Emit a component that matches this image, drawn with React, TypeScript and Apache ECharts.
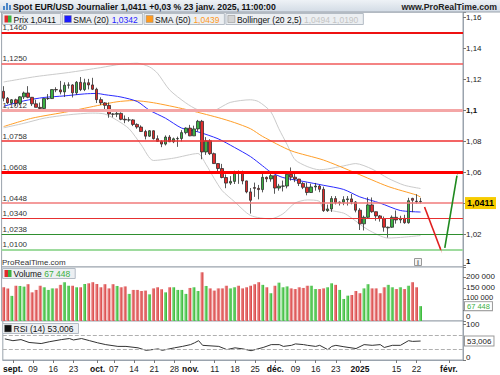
import React, { useEffect, useRef } from 'react';
import * as echarts from 'echarts';

const FONT = '"Liberation Sans", Arial, Helvetica, sans-serif';

// trading days: weekdays from firstDay to lastAxisDay, without holidays
const firstDay = '2024-08-29';
const lastAxisDay = '2025-02-06';
const holidays = ['2024-12-25', '2025-01-01'];

const priceOpen = [
  1.1122, 1.1077, 1.1047, 1.1067, 1.1044, 1.1086, 1.1111, 1.1083, 1.1041, 1.1018,
  1.1011, 1.1075, 1.1075, 1.1133, 1.1131, 1.1118, 1.1161, 1.1163, 1.1112, 1.1180,
  1.1133, 1.1177, 1.1163, 1.1135, 1.1068, 1.1047, 1.1031, 1.0975, 1.0974, 1.0979,
  1.0941, 1.0937, 1.0937, 1.0908, 1.0891, 1.0862, 1.0832, 1.0867, 1.0816, 1.0798,
  1.0781, 1.0826, 1.0796, 1.0815, 1.0817, 1.0855, 1.0884, 1.0834, 1.0879, 1.0928,
  1.0730, 1.0802, 1.0719, 1.0655, 1.0623, 1.0565, 1.0529, 1.0540, 1.0597, 1.0596,
  1.0543, 1.0472, 1.0500, 1.0495, 1.0487, 1.0566, 1.0556, 1.0577, 1.0497, 1.0509,
  1.0510, 1.0586, 1.0567, 1.0555, 1.0527, 1.0502, 1.0468, 1.0504, 1.0510, 1.0489,
  1.0351, 1.0362, 1.0429, 1.0403, 1.0406, 1.0422, 1.0427, 1.0407, 1.0354, 1.0266,
  1.0308, 1.0388, 1.0344, 1.0317, 1.0300, 1.0240, 1.0244, 1.0308, 1.0291, 1.0301,
  1.0273, 1.0430, 1.0412, 1.0409,
];
const priceHigh = [
  1.1155, 1.1085, 1.1072, 1.1074, 1.1090, 1.1120, 1.1155, 1.1085, 1.1067, 1.1049,
  1.1075, 1.1104, 1.1134, 1.1148, 1.1189, 1.1180, 1.1180, 1.1168, 1.1188, 1.1214,
  1.1203, 1.1202, 1.1209, 1.1145, 1.1083, 1.1052, 1.1050, 1.0981, 1.1002, 1.0986,
  1.0966, 1.0955, 1.0942, 1.0915, 1.0902, 1.0873, 1.0871, 1.0870, 1.0837, 1.0806,
  1.0837, 1.0839, 1.0823, 1.0829, 1.0871, 1.0889, 1.0905, 1.0900, 1.0937, 1.0937,
  1.0826, 1.0812, 1.0726, 1.0658, 1.0653, 1.0585, 1.0574, 1.0609, 1.0610, 1.0609,
  1.0545, 1.0497, 1.0532, 1.0517, 1.0588, 1.0572, 1.0596, 1.0577, 1.0524, 1.0545,
  1.0591, 1.0630, 1.0591, 1.0556, 1.0535, 1.0532, 1.0525, 1.0530, 1.0517, 1.0506,
  1.0390, 1.0445, 1.0445, 1.0410, 1.0444, 1.0445, 1.0458, 1.0413, 1.0367, 1.0319,
  1.0437, 1.0436, 1.0345, 1.0323, 1.0313, 1.0248, 1.0320, 1.0352, 1.0318, 1.0324,
  1.0434, 1.0434, 1.0457, 1.0433,
];
const priceLow = [
  1.1057, 1.1039, 1.1042, 1.1026, 1.1032, 1.1072, 1.1077, 1.1027, 1.1018, 1.1001,
  1.1003, 1.1066, 1.1072, 1.1116, 1.1102, 1.1085, 1.1139, 1.1082, 1.1099, 1.1123,
  1.1123, 1.1134, 1.1130, 1.1046, 1.1033, 1.1003, 1.0951, 1.0954, 1.0955, 1.0935,
  1.0916, 1.0925, 1.0897, 1.0880, 1.0860, 1.0811, 1.0827, 1.0810, 1.0795, 1.0761,
  1.0772, 1.0794, 1.0787, 1.0763, 1.0798, 1.0844, 1.0832, 1.0833, 1.0862, 1.0683,
  1.0711, 1.0710, 1.0653, 1.0595, 1.0560, 1.0496, 1.0517, 1.0523, 1.0524, 1.0521,
  1.0463, 1.0332, 1.0440, 1.0424, 1.0469, 1.0535, 1.0538, 1.0460, 1.0480, 1.0475,
  1.0495, 1.0545, 1.0535, 1.0510, 1.0490, 1.0450, 1.0465, 1.0480, 1.0470, 1.0343,
  1.0343, 1.0343, 1.0391, 1.0384, 1.0386, 1.0384, 1.0392, 1.0340, 1.0226, 1.0223,
  1.0302, 1.0337, 1.0286, 1.0280, 1.0215, 1.0177, 1.0240, 1.0267, 1.0270, 1.0266,
  1.0267, 1.0341, 1.0397, 1.0398,
];
const priceClose = [
  1.1077, 1.1047, 1.1067, 1.1044, 1.1086, 1.1111, 1.1083, 1.1041, 1.1018, 1.1011,
  1.1075, 1.1075, 1.1133, 1.1131, 1.1118, 1.1161, 1.1163, 1.1112, 1.1180, 1.1133,
  1.1177, 1.1163, 1.1135, 1.1068, 1.1047, 1.1031, 1.0975, 1.0974, 1.0979, 1.0941,
  1.0937, 1.0937, 1.0908, 1.0891, 1.0862, 1.0832, 1.0867, 1.0816, 1.0798, 1.0781,
  1.0826, 1.0796, 1.0815, 1.0817, 1.0855, 1.0884, 1.0834, 1.0879, 1.0928, 1.0730,
  1.0802, 1.0719, 1.0655, 1.0623, 1.0565, 1.0529, 1.0540, 1.0597, 1.0596, 1.0543,
  1.0472, 1.0418, 1.0495, 1.0487, 1.0566, 1.0556, 1.0577, 1.0497, 1.0509, 1.0510,
  1.0586, 1.0567, 1.0555, 1.0527, 1.0502, 1.0468, 1.0504, 1.0510, 1.0489, 1.0351,
  1.0362, 1.0429, 1.0403, 1.0406, 1.0422, 1.0427, 1.0407, 1.0354, 1.0266, 1.0308,
  1.0388, 1.0344, 1.0317, 1.0300, 1.0244, 1.0244, 1.0308, 1.0291, 1.0301, 1.0273,
  1.0415, 1.0418, 1.0409, 1.0411,
];

const volumes = [
  153000, 148000, 114000, 160000, 159000, 156000, 167000, 130000, 141000, 160000,
  153000, 141000, 148000, 148000, 164000, 176000, 160000, 160000, 153000, 153000,
  168000, 171000, 176000, 168000, 153000, 167000, 148000, 167000, 159000, 153000,
  157000, 123000, 141000, 141000, 136000, 138000, 121000, 148000, 153000, 144000,
  130000, 153000, 153000, 141000, 141000, 123000, 150000, 153000, 136000, 221000,
  159000, 148000, 138000, 148000, 148000, 160000, 148000, 153000, 160000, 148000,
  153000, 160000, 167000, 176000, 164000, 153000, 126000, 160000, 174000, 153000,
  157000, 148000, 145000, 153000, 150000, 160000, 160000, 145000, 145000, 148000,
  153000, 171000, 164000, 141000, 100000, 115000, 118000, 136000, 126000, 148000,
  167000, 148000, 148000, 126000, 153000, 164000, 153000, 145000, 153000, 145000,
  160000, 176000, 153000, 67448,
];

// [candle index, value]
const sma20 = [
  [0, 1.1025], [5, 1.106], [10, 1.1082], [15, 1.1092], [20, 1.1105], [23, 1.1108], [25, 1.11],
  [29, 1.1085], [33, 1.1056], [36, 1.1], [40, 1.0948], [44, 1.0884], [48, 1.086], [53, 1.0815],
  [57, 1.076], [61, 1.07], [64, 1.064], [66, 1.06], [69, 1.0565], [74, 1.054], [79, 1.0515],
  [84, 1.0488], [88, 1.044], [93, 1.04], [98, 1.0352], [103, 1.0342],
];
const sma50 = [
  [0, 1.0894], [7, 1.0948], [16, 1.0991], [24, 1.1034], [28, 1.1054], [32, 1.1062], [37, 1.1048],
  [45, 1.1005], [53, 1.0952], [57, 1.092], [61, 1.088], [64, 1.083], [71, 1.0738], [79, 1.0678],
  [87, 1.0594], [95, 1.0507], [102, 1.0452], [103, 1.0439],
];
const bollUpper = [
  [0, 1.1182], [8, 1.1217], [16, 1.1243], [24, 1.1275], [29, 1.1297], [33, 1.1303], [36, 1.128],
  [38, 1.1239], [41, 1.1131], [45, 1.1047], [48, 1.1002], [51, 1.099], [56, 1.105], [61, 1.1067],
  [63, 1.1055], [66, 1.099], [68, 1.088], [70, 1.078], [72, 1.068], [75, 1.0636], [78, 1.0615],
  [80, 1.062], [84, 1.064], [87, 1.0655], [91, 1.062], [95, 1.056], [99, 1.0515], [103, 1.0494],
];
const bollLower = [
  [0, 1.0886], [5, 1.0915], [10, 1.0948], [16, 1.097], [22, 1.0981], [25, 1.0975], [28, 1.0935],
  [31, 1.088], [34, 1.0776], [37, 1.0675], [42, 1.069], [48, 1.072], [50, 1.065], [52, 1.056],
  [54, 1.048], [57, 1.041], [61, 1.032], [66, 1.0298], [69, 1.033], [72, 1.04], [75, 1.042],
  [78, 1.0412], [79, 1.0365], [84, 1.0335], [86, 1.0303], [90, 1.0228], [95, 1.0174],
  [99, 1.018], [103, 1.019],
];
const rsi14 = [
  [0, 59], [2, 54], [4, 57], [6, 49], [9, 46], [11, 51], [14, 57], [16, 60], [17, 56], [19, 60],
  [21, 54], [23, 48], [25, 43], [28, 38], [30, 38], [33, 34], [35, 27], [38, 31], [39, 27],
  [42, 34], [44, 38], [46, 43], [47, 48], [48, 54], [49, 41], [53, 38], [55, 29], [57, 34],
  [59, 31], [61, 26], [64, 35], [66, 43], [68, 43], [69, 38], [71, 41], [72, 45], [74, 43],
  [75, 41], [77, 38], [78, 41], [80, 29], [81, 38], [82, 41], [84, 37], [87, 32], [89, 43],
  [91, 41], [93, 43], [94, 35], [96, 41], [98, 41], [100, 54], [101, 52], [103, 53],
];

const levelValues = [1.146, 1.125, 1.1012, 1.0758, 1.0608, 1.0448, 1.034, 1.0238, 1.01];
const levelStyles = [
  { color: '#ee1111', width: 2 },
  { color: '#f05a5a', width: 1.5 },
  { color: '#f4a6a6', width: 3 },
  { color: '#ef3030', width: 1.5 },
  { color: '#ff0000', width: 3 },
  { color: '#f07a7a', width: 1.5 },
  { color: '#e63030', width: 1 },
  { color: '#2f8f2f', width: 1 },
  { color: '#9edb9e', width: 2 },
];

// arrows drawn on the chart: [candle index, price] start and end
const redArrow = [[104, 1.0374], [108, 1.0099]];
const greenArrow = [[109, 1.011], [112, 1.0576]];

const tickLabels: [string, string][] = [
  ['2024-09-02', 'sept.'], ['2024-09-09', '09'], ['2024-09-16', '16'], ['2024-09-23', '23'],
  ['2024-10-01', 'oct.'], ['2024-10-07', '07'], ['2024-10-14', '14'], ['2024-10-21', '21'],
  ['2024-10-28', '28'], ['2024-11-01', 'nov.'], ['2024-11-11', '11'], ['2024-11-18', '18'],
  ['2024-11-25', '25'], ['2024-12-02', 'déc.'], ['2024-12-09', '09'], ['2024-12-16', '16'],
  ['2024-12-23', '23'], ['2025-01-02', '2025'], ['2025-01-15', '15'], ['2025-01-22', '22'],
  ['2025-02-03', 'févr.'],
];
const boldTicks = ['sept.', 'oct.', 'nov.', 'déc.', '2025', 'févr.'];

const lastPrice = 1.0411;
const changePct = 0.03;
const lastSma20 = 1.0342;
const lastSma50 = 1.0439;
const lastBollUp = 1.0494;
const lastBollLow = 1.019;
const lastVolume = 67448;
const lastRsi = 53.006;

const GREEN = '#3cb043';
const RED = '#e02b2b';
const BORDER = '#9aa3ad';

function buildCategories(): string[] {
  const out: string[] = [];
  const d = new Date(firstDay + 'T00:00:00Z');
  const end = new Date(lastAxisDay + 'T00:00:00Z').getTime();
  while (d.getTime() <= end) {
    const wd = d.getUTCDay();
    const s = d.toISOString().slice(0, 10);
    if (wd !== 0 && wd !== 6 && !holidays.includes(s)) out.push(s);
    d.setUTCDate(d.getUTCDate() + 1);
  }
  return out;
}

const fmt = (v: number, d: number) => v.toFixed(d).replace('.', ',');
const fmtThousands = (v: number) => String(v).replace(/\B(?=(\d{3})+(?!\d))/g, ' ');

function buildOption() {
  const cats = buildCategories();
  const tickMap = new Map(tickLabels);
  const isLabeled = (_i: number, val: string) => tickMap.has(val);
  const candle = priceOpen.map((o, i) => [o, priceClose[i], priceLow[i], priceHigh[i]]);
  const isUp = (i: number) => priceClose[i] >= priceOpen[i];

  const canvas = document.createElement('canvas');
  const ctx = canvas.getContext('2d')!;
  const tw = (s: string, font: string) => {
    ctx.font = font;
    return ctx.measureText(s).width;
  };
  const LF = `8.5px ${FONT}`;

  const gRed = new echarts.graphic.LinearGradient(0, 0, 1, 0, [
    { offset: 0, color: '#f09a9a' },
    { offset: 1, color: '#d63c3c' },
  ]);
  const gGreen = new echarts.graphic.LinearGradient(0, 0, 1, 0, [
    { offset: 0, color: '#8fe08f' },
    { offset: 1, color: '#2fb52f' },
  ]);

  const graphic: any[] = [];
  const Z = 100;
  // title bar
  graphic.push({
    type: 'rect', z: Z, silent: true,
    shape: { x: 0, y: 0, width: 500, height: 12 },
    style: {
      fill: new echarts.graphic.LinearGradient(0, 0, 0, 1, [
        { offset: 0, color: '#eef2f6' },
        { offset: 1, color: '#d2dbe5' },
      ]),
    },
  });
  graphic.push({ type: 'line', z: Z, silent: true, shape: { x1: 0, y1: 12, x2: 500, y2: 12 }, style: { stroke: BORDER, lineWidth: 1 } });
  [[3, 6, 2, 4], [6, 3, 2, 7], [9, 5, 2, 5]].forEach(([x, y, w, h]) =>
    graphic.push({ type: 'rect', z: Z + 1, silent: true, shape: { x, y, width: w, height: h }, style: { fill: '#4a86c8' } })
  );
  const titleText = `Spot EUR/USD Journalier ${fmt(lastPrice, 4)} +${fmt(changePct, 2)} % 23 janv. 2025, 11:00:00`;
  graphic.push({
    type: 'text', z: Z + 1, silent: true, x: 13, y: 6.5,
    style: { text: titleText, font: `bold 8.7px ${FONT}`, fill: '#111', verticalAlign: 'middle', textVerticalAlign: 'middle' },
  });
  graphic.push({
    type: 'text', z: Z + 1, silent: true, x: 497, y: 6.5,
    style: { text: 'www.ProRealTime.com', font: `bold 8.7px ${FONT}`, fill: '#222', align: 'right', textAlign: 'right', verticalAlign: 'middle', textVerticalAlign: 'middle' },
  });

  const legendBox = (x: number, y: number, h: number, label: string, value: string, valueColor: string, icon: (x: number, y: number) => void) => {
    const lw = tw(label + ' ', LF);
    const vw = tw(value, LF);
    const w = 11 + lw + vw + 5;
    graphic.push({ type: 'rect', z: Z, silent: true, shape: { x: x + 0.5, y: y + 0.5, width: w, height: h }, style: { fill: '#eceff2', stroke: '#b4bcc5', lineWidth: 1 } });
    icon(x + 2.5, y + (h - 7) / 2 + 0.5);
    const ty = y + h / 2 + 1;
    graphic.push({ type: 'text', z: Z + 1, silent: true, x: x + 11.5, y: ty, style: { text: label, font: LF, fill: '#111', verticalAlign: 'middle', textVerticalAlign: 'middle' } });
    graphic.push({ type: 'text', z: Z + 1, silent: true, x: x + 11.5 + lw, y: ty, style: { text: value, font: LF, fill: valueColor, verticalAlign: 'middle', textVerticalAlign: 'middle' } });
    return x + w + 1.5;
  };
  const sq = (color: string) => (x: number, y: number) =>
    graphic.push({ type: 'rect', z: Z + 1, silent: true, shape: { x, y, width: 7, height: 7 }, style: { fill: color, stroke: '#888', lineWidth: 0.5 } });
  const duo = (x: number, y: number) => {
    graphic.push({ type: 'rect', z: Z + 1, silent: true, shape: { x, y, width: 3.5, height: 7 }, style: { fill: RED } });
    graphic.push({ type: 'rect', z: Z + 1, silent: true, shape: { x: x + 3.5, y, width: 3.5, height: 7 }, style: { fill: GREEN } });
  };

  let lx = 2;
  lx = legendBox(lx, 13, 11, 'Prix', fmt(lastPrice, 4), '#111', duo);
  lx = legendBox(lx, 13, 11, 'SMA (20)', fmt(lastSma20, 4), '#2424ff', sq('#1a1aff'));
  lx = legendBox(lx, 13, 11, 'SMA (50)', fmt(lastSma50, 4), '#ff9a1f', sq('#ff9a1f'));
  legendBox(lx, 13, 11, 'Bollinger (20 2,5)', `${fmt(lastBollUp, 4)} ${fmt(lastBollLow, 4)}`, '#c4c4c4', sq('#d4d4d4'));

  graphic.push({ type: 'text', z: Z + 1, silent: true, x: 2, y: 262, style: { text: 'ProRealTime.com', font: `8px ${FONT}`, fill: '#333', verticalAlign: 'middle', textVerticalAlign: 'middle' } });
  graphic.push({ type: 'rect', z: Z, silent: true, shape: { x: 414.5, y: 258.5, width: 7, height: 7 }, style: { fill: '#f4f4f4', stroke: '#999', lineWidth: 1 } });
  graphic.push({ type: 'text', z: Z + 1, silent: true, x: 418, y: 262.5, style: { text: 'i', font: `bold 7px ${FONT}`, fill: '#666', align: 'center', textAlign: 'center', verticalAlign: 'middle', textVerticalAlign: 'middle' } });

  legendBox(2, 268, 10, 'Volume', fmtThousands(lastVolume), GREEN, duo);
  legendBox(2, 323, 10, 'RSI (14)', fmt(lastRsi, 3), '#111', sq('#111'));

  const gridBase = { left: 1.6, right: 37, show: true, borderColor: BORDER, borderWidth: 1, backgroundColor: '#fff' };

  const xAxisBase = (k: number) => ({
    type: 'category', gridIndex: k, data: cats, boundaryGap: true, show: k === 2,
    axisLine: { show: true, lineStyle: { color: BORDER } },
    axisTick: { show: true, interval: isLabeled, alignWithLabel: true, length: 3, lineStyle: { color: '#777' } },
    axisLabel: {
      interval: isLabeled, margin: 4, fontSize: 8, color: '#222', fontFamily: FONT,
      formatter: (val: string) => {
        const t = tickMap.get(val);
        if (!t) return '';
        return boldTicks.includes(t) ? `{b|${t}}` : `{n|${t}}`;
      },
      rich: {
        b: { fontWeight: 'bold', fontSize: 8.5, fontFamily: FONT, color: '#111' },
        n: { fontSize: 8.5, fontFamily: FONT, color: '#222' },
      },
    },
    splitLine: { show: false },
  });

  const yAxisCommon = {
    type: 'value', position: 'right', splitLine: { show: false },
    axisLine: { show: true, lineStyle: { color: BORDER } },
    axisTick: { show: true, length: 3, lineStyle: { color: '#777' } },
  };
  const labelRich = {
    n: { fontSize: 8, fontFamily: FONT, color: '#222' },
    b: { fontSize: 8, fontFamily: FONT, color: '#111', fontWeight: 'bold' },
    b0: { fontSize: 8, fontFamily: FONT, color: '#111', fontWeight: 'bold', padding: [0, 0, 6, 0] },
    n0: { fontSize: 8, fontFamily: FONT, color: '#222', padding: [0, 0, 9, 0] },
    r0: { fontSize: 8, fontFamily: FONT, color: '#222', padding: [0, 0, 6, 0] },
    v: { fontSize: 7.5, lineHeight: 8, fontFamily: FONT, color: '#222', padding: [0, 0, 3, 0] },
  };

  const priceTick = (v: number) => {
    const r = Math.round(v * 50);
    if (Math.abs(v * 50 - r) > 1e-6) return '';
    const c = r * 2;
    if (c === 104) return '';
    if (c === 110) return '{b|1,1}';
    if (c === 100) return '{b0|1}';
    return `{n|${fmt(c / 100, 2)}}`;
  };
  const volTick = (v: number) => {
    if (v === 0) return '{n0|0}';
    if (v === 100000) return `{v|${fmtThousands(v)}}`;
    if (v === 150000 || v === 200000) return `{n|${fmtThousands(v)}}`;
    return '';
  };
  const rsiTick = (v: number) => (v === 0 ? '{r0|0}' : v === 100 ? '{n|100}' : '');

  const lineSeries = (data: number[][], color: string, z: number) => ({
    type: 'line', xAxisIndex: 0, yAxisIndex: 0, data, showSymbol: false, symbol: 'none', smooth: 0.25,
    lineStyle: { color, width: 1 }, z, silent: true,
  });

  const arrowLine = (pts: number[][], color: string) => [
    { coord: [cats[pts[0][0]], pts[0][1]], lineStyle: { color, width: 1.6, type: 'solid' } },
    { coord: [cats[pts[1][0]], pts[1][1]] },
  ];

  const hidden = { color: 'rgba(0,0,0,0)', width: 0, opacity: 1 };
  const tagLabel = (text: string, extra: any) => ({
    show: true, position: 'end', formatter: text, distance: 2, fontSize: 8, fontFamily: FONT, opacity: 1, ...extra,
  });

  return {
    animation: false,
    textStyle: { fontFamily: FONT },
    grid: [
      { ...gridBase, top: 12, height: 255 },
      { ...gridBase, top: 267, height: 54 },
      { ...gridBase, top: 321, height: 39 },
    ],
    xAxis: [xAxisBase(0), xAxisBase(1), xAxisBase(2)],
    yAxis: [
      { ...yAxisCommon, gridIndex: 0, min: 0.9987, max: 1.1634, splitNumber: 8, minInterval: 0.02, maxInterval: 0.02,
        axisLabel: { formatter: priceTick, margin: 3, rich: labelRich } },
      { ...yAxisCommon, gridIndex: 1, min: 0, max: 245000, splitNumber: 5, minInterval: 50000, maxInterval: 50000,
        axisLabel: { formatter: volTick, margin: 3, rich: labelRich } },
      { ...yAxisCommon, gridIndex: 2, min: 0, max: 109, splitNumber: 1, minInterval: 100, maxInterval: 100,
        axisLabel: { formatter: rsiTick, margin: 3, rich: labelRich } },
    ],
    graphic,
    series: [
      {
        type: 'line', xAxisIndex: 0, yAxisIndex: 0, data: [], z: 1, silent: true,
        markLine: {
          silent: true, symbol: ['none', 'none'], animation: false,
          data: levelValues.map((v, i) => ({
            yAxis: v,
            lineStyle: { color: levelStyles[i].color, width: levelStyles[i].width, type: 'solid' },
            label: { show: true, position: 'insideStartTop', formatter: fmt(v, 4), color: '#333', fontSize: 8, fontFamily: FONT, distance: [1, 1] },
          })),
        },
      },
      lineSeries(bollUpper, '#cbcbcb', 2),
      lineSeries(bollLower, '#cbcbcb', 2),
      lineSeries(sma50, '#ff9f2a', 3),
      lineSeries(sma20, '#2b2bff', 3),
      {
        type: 'candlestick', xAxisIndex: 0, yAxisIndex: 0, data: candle, barWidth: 3, z: 4, silent: true,
        itemStyle: { color: GREEN, color0: RED, borderColor: '#2e2e2e', borderColor0: '#2e2e2e', borderWidth: 0.8 },
      },
      {
        type: 'line', xAxisIndex: 0, yAxisIndex: 0, data: [], z: 6, silent: true,
        markLine: {
          silent: true, symbol: ['none', 'triangle'], symbolSize: [1, 8], animation: false,
          label: { show: false },
          data: [arrowLine(redArrow, '#e01f1f'), arrowLine(greenArrow, '#1f8a1f')],
        },
      },
      {
        type: 'line', xAxisIndex: 0, yAxisIndex: 0, data: [], z: 7, silent: true,
        markLine: {
          silent: true, symbol: ['none', 'none'], animation: false,
          data: [{
            yAxis: lastPrice, lineStyle: hidden,
            label: tagLabel(fmt(lastPrice, 4), { backgroundColor: '#f7cc00', color: '#000', fontWeight: 'bold', fontSize: 9, padding: [2, 2, 1, 2] }),
          }],
        },
      },
      {
        type: 'bar', xAxisIndex: 1, yAxisIndex: 1, barWidth: 3, silent: true,
        data: volumes.map((v, i) => ({ value: v, itemStyle: { color: isUp(i) ? gGreen : gRed } })),
        markLine: {
          silent: true, symbol: ['none', 'none'], animation: false,
          data: [{
            yAxis: lastVolume, lineStyle: hidden,
            label: tagLabel(fmtThousands(lastVolume), { color: GREEN, fontSize: 7.5, lineHeight: 8, backgroundColor: '#fff', borderColor: '#999', borderWidth: 1, padding: [0, 2, 0, 2] }),
          }],
        },
      },
      {
        type: 'line', xAxisIndex: 2, yAxisIndex: 2, data: rsi14, showSymbol: false, symbol: 'none', silent: true,
        lineStyle: { color: '#333', width: 1 },
        markLine: {
          silent: true, symbol: ['none', 'none'], animation: false,
          data: [
            { yAxis: 70, lineStyle: { color: '#b0b0b0', type: 'dashed', width: 1 }, label: { show: false } },
            { yAxis: 30, lineStyle: { color: '#b0b0b0', type: 'dashed', width: 1 }, label: { show: false } },
            {
              yAxis: lastRsi, lineStyle: hidden,
              label: tagLabel(fmt(lastRsi, 3), { color: '#222', backgroundColor: '#fff', borderColor: '#999', borderWidth: 1, padding: [1, 2, 0, 2] }),
            },
          ],
        },
      },
    ],
  };
}

export default function App() {
  const ref = useRef<HTMLDivElement>(null);
  useEffect(() => {
    const chart = echarts.init(ref.current!, undefined, { renderer: 'svg' });
    chart.setOption(buildOption() as any);
    return () => chart.dispose();
  }, []);
  return (
    <div
      ref={ref}
      style={{ position: 'absolute', left: 0, top: 0, width: 500, height: 375, background: '#fff' }}
    />
  );
}
